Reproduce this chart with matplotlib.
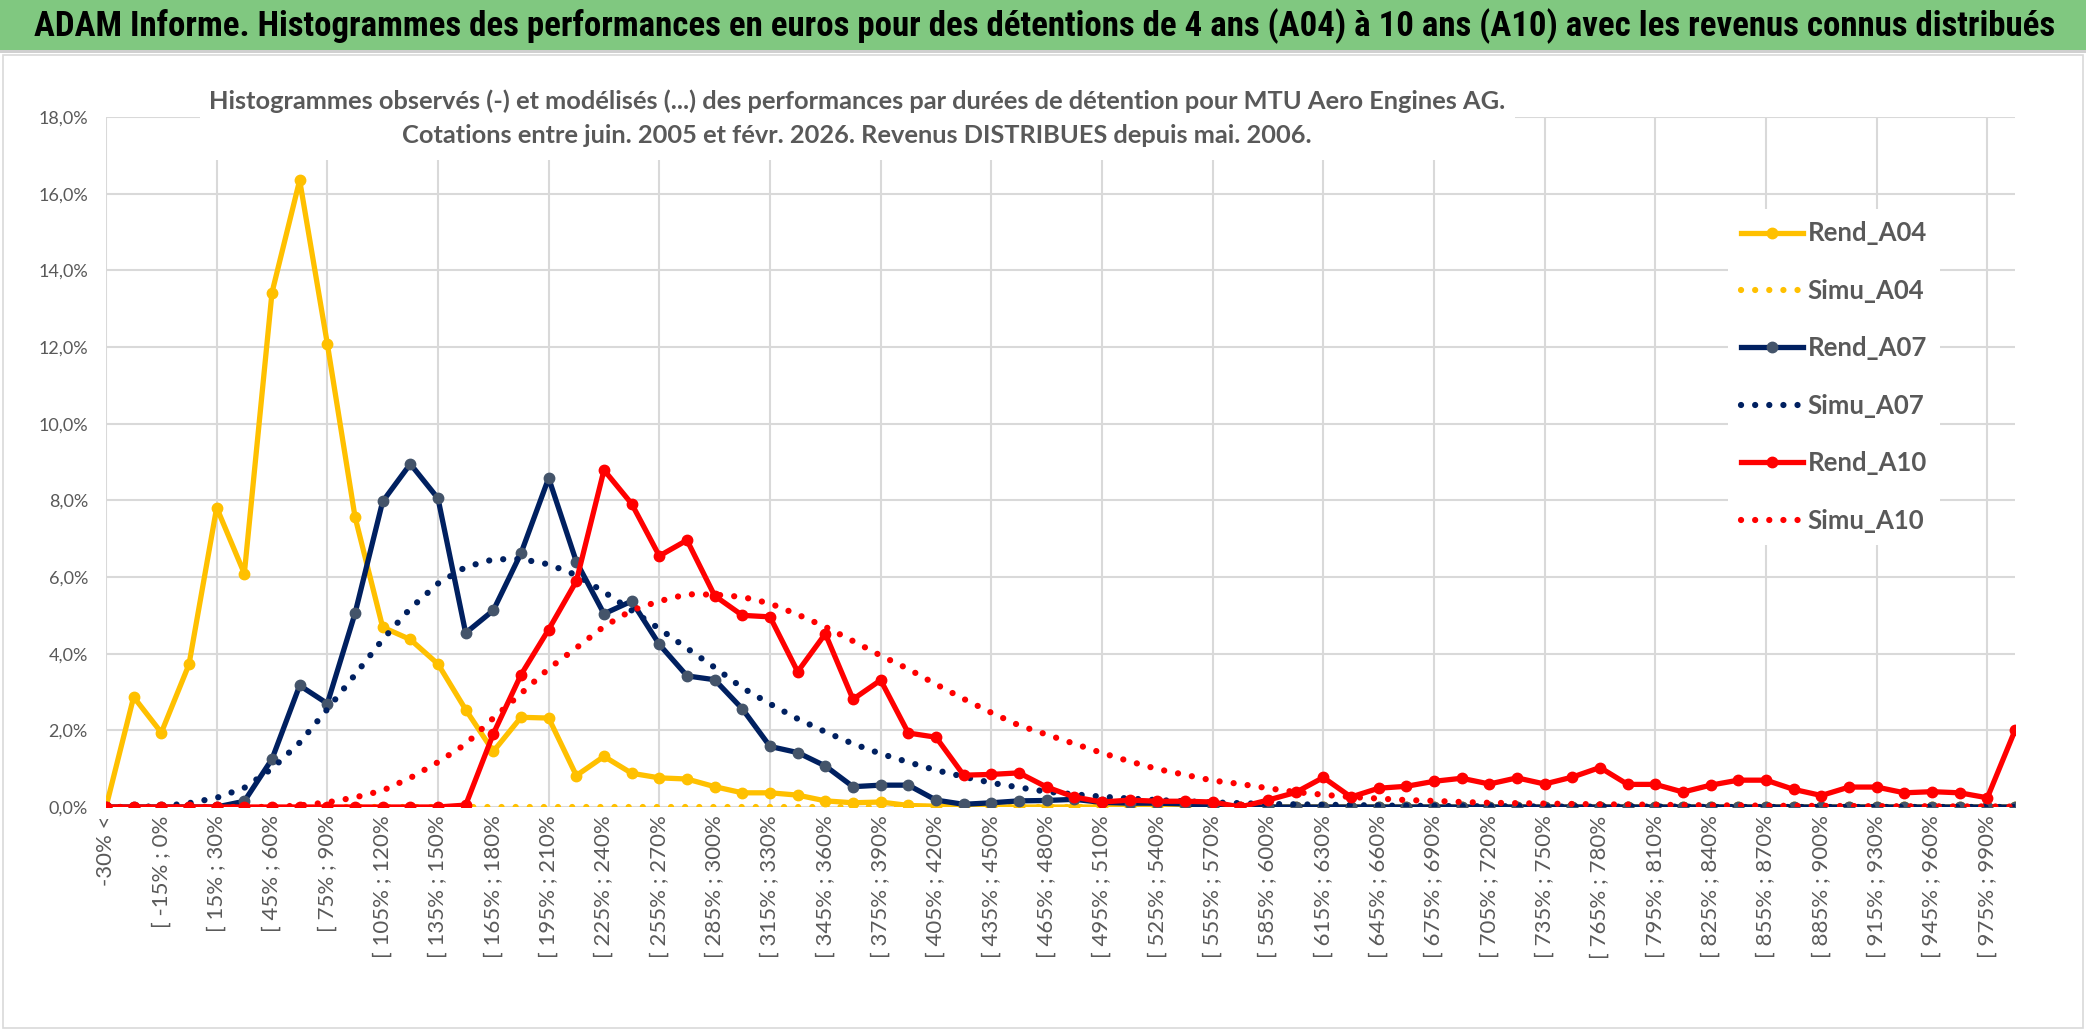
import matplotlib
matplotlib.use("Agg")
import matplotlib.pyplot as plt
from matplotlib import font_manager
from matplotlib.font_manager import FontProperties
from matplotlib.ticker import FixedLocator, FuncFormatter
from matplotlib.patches import Rectangle


def pick_font(names):
    for name in names:
        try:
            font_manager.findfont(FontProperties(family=name), fallback_to_default=False)
            return name
        except ValueError:
            continue
    return "DejaVu Sans"


TITLE_FONT = pick_font(["Liberation Sans Narrow", "Roboto Condensed", "Lato"])
BODY_FONT = pick_font(["Lato", "Open Sans", "DejaVu Sans"])

# categories: "-30% <" then 15% wide classes
lower_bounds = list(range(-30, 991, 15))
categories = ["-30% <"] + [f"[ {a}% ; {a + 15}%" for a in lower_bounds]

# values in %
rend_a04 = [0.0, 2.87, 1.94, 3.72, 7.81, 6.09, 13.42, 16.35, 12.08, 7.57,
            4.69, 4.37, 3.73, 2.54, 1.45, 2.34, 2.32, 0.82, 1.32, 0.88,
            0.76, 0.73, 0.53, 0.37, 0.37, 0.31, 0.16, 0.11, 0.13, 0.04,
            0.02, 0.0, 0.0, 0.0, 0.0, 0.0, 0.0, 0.0, 0.0, 0.0,
            0.0, 0.0, 0.0, 0.0, 0.0, 0.0, 0.0, 0.0, 0.0, 0.0,
            0.0, 0.0, 0.0, 0.0, 0.0, 0.0, 0.0, 0.0, 0.0, 0.0,
            0.0, 0.0, 0.0, 0.0, 0.0, 0.0, 0.0, 0.0, 0.0, 0.0]
simu_a04 = [0.0] * 70
rend_a07 = [0.0, 0.0, 0.0, 0.0, 0.0, 0.15, 1.25, 3.17, 2.70, 5.05,
            7.97, 8.95, 8.05, 4.54, 5.13, 6.62, 8.58, 6.40, 5.04, 5.37,
            4.24, 3.42, 3.32, 2.56, 1.58, 1.42, 1.07, 0.53, 0.57, 0.57,
            0.18, 0.07, 0.11, 0.16, 0.17, 0.20, 0.12, 0.10, 0.10, 0.08,
            0.03, 0.0, 0.0, 0.0, 0.0, 0.0, 0.0, 0.0, 0.0, 0.0,
            0.0, 0.0, 0.0, 0.0, 0.0, 0.0, 0.0, 0.0, 0.0, 0.0,
            0.0, 0.0, 0.0, 0.0, 0.0, 0.0, 0.0, 0.0, 0.0, 0.0]
simu_a07 = [0.0, 0.0, 0.02, 0.10, 0.24, 0.50, 1.00, 1.68, 2.55, 3.45,
            4.37, 5.18, 5.83, 6.26, 6.46, 6.47, 6.33, 6.05, 5.61, 5.13,
            4.65, 4.14, 3.64, 3.11, 2.69, 2.30, 1.96, 1.65, 1.39, 1.17,
            0.96, 0.79, 0.63, 0.51, 0.40, 0.33, 0.27, 0.22, 0.18, 0.15,
            0.12, 0.10, 0.08, 0.07, 0.06, 0.05, 0.04, 0.03, 0.03, 0.02,
            0.02, 0.02, 0.01, 0.01, 0.01, 0.01, 0.01, 0.01, 0.0, 0.0,
            0.0, 0.0, 0.0, 0.0, 0.0, 0.0, 0.0, 0.0, 0.0, 0.0]
rend_a10 = [0.0, 0.0, 0.0, 0.0, 0.0, 0.0, 0.0, 0.0, 0.0, 0.0,
            0.0, 0.0, 0.0, 0.05, 1.91, 3.45, 4.63, 5.89, 8.79, 7.91,
            6.55, 6.96, 5.51, 5.00, 4.96, 3.53, 4.52, 2.81, 3.31, 1.93,
            1.82, 0.83, 0.85, 0.89, 0.52, 0.26, 0.13, 0.18, 0.15, 0.15,
            0.13, 0.0, 0.18, 0.38, 0.77, 0.26, 0.49, 0.54, 0.67, 0.75,
            0.60, 0.76, 0.60, 0.78, 1.03, 0.59, 0.59, 0.39, 0.57, 0.70,
            0.70, 0.46, 0.30, 0.52, 0.52, 0.37, 0.40, 0.37, 0.24, 2.00]
simu_a10 = [0.0, 0.0, 0.0, 0.0, 0.0, 0.0, 0.0, 0.04, 0.12, 0.25,
            0.43, 0.76, 1.17, 1.64, 2.32, 2.96, 3.61, 4.15, 4.71, 5.13,
            5.37, 5.55, 5.54, 5.48, 5.31, 5.02, 4.70, 4.33, 3.95, 3.60,
            3.20, 2.82, 2.46, 2.13, 1.89, 1.65, 1.41, 1.19, 0.99, 0.84,
            0.69, 0.60, 0.49, 0.39, 0.32, 0.26, 0.22, 0.18, 0.16, 0.13,
            0.11, 0.10, 0.09, 0.08, 0.07, 0.065, 0.06, 0.05, 0.045, 0.04,
            0.035, 0.03, 0.03, 0.025, 0.02, 0.02, 0.02, 0.015, 0.015, 0.01]

title = ("ADAM Informe. Histogrammes des performances en euros pour des détentions "
         "de 4 ans (A04) à 10 ans (A10) avec les revenus connus distribués")
subtitle = ("Histogrammes observés (-) et modélisés (...) des performances par durées "
            "de détention pour MTU Aero Engines AG.\n"
            "Cotations entre juin. 2005 et févr. 2026. Revenus DISTRIBUES depuis mai. 2006.")

YELLOW = "#FFC000"
NAVY = "#002060"
NAVY_MK = "#44546A"
RED = "#FF0000"
GREY_TXT = "#595959"
GRID = "#d9d9d9"

W, H = 2086, 1031
fig = plt.figure(figsize=(W / 100, H / 100), dpi=100)
fig.patch.set_facecolor("white")

# green banner and chart frame
fig.patches.append(Rectangle((0, 1 - 50 / H), 1, 50 / H, transform=fig.transFigure,
                             facecolor="#80c880", edgecolor="none", zorder=0))
fig.patches.append(Rectangle((0, 1 - 53 / H), 1, 3 / H, transform=fig.transFigure,
                             facecolor="#d0d0d0", edgecolor="none", zorder=0))
fig.patches.append(Rectangle((3 / W, 3 / H), 1 - 6 / W, 1 - 58 / H, transform=fig.transFigure,
                             facecolor="none", edgecolor=GRID, lw=1.2, zorder=0))
# white box behind the chart title (hides gridlines)
fig.patches.append(Rectangle((200 / W, 1 - 160 / H), 1315 / W, 75 / H,
                             transform=fig.transFigure, facecolor="white",
                             edgecolor="none", zorder=1))

ax = fig.add_axes([106 / W, 1 - 807 / H, (2015 - 106) / W, (807 - 117) / H])
x = list(range(len(categories)))

dot_style = (0, (0.01, 2.25))
ax.plot(x, rend_a04, color=YELLOW, lw=3.8, marker="o", ms=7.5, label="Rend_A04",
        solid_joinstyle="round", zorder=3)
ax.plot(x, simu_a04, color=YELLOW, lw=4.5, ls=dot_style, dash_capstyle="round",
        label="Simu_A04", zorder=4)
ax.plot(x, rend_a07, color=NAVY, lw=3.8, marker="o", ms=7.5, mfc=NAVY_MK, mec=NAVY_MK,
        label="Rend_A07", solid_joinstyle="round", zorder=5)
ax.plot(x, simu_a07, color=NAVY, lw=4.5, ls=dot_style, dash_capstyle="round",
        label="Simu_A07", zorder=6)
ax.plot(x, rend_a10, color=RED, lw=3.8, marker="o", ms=7.5, label="Rend_A10",
        solid_joinstyle="round", zorder=7)
ax.plot(x, simu_a10, color=RED, lw=4.5, ls=dot_style, dash_capstyle="round",
        label="Simu_A10", zorder=8)

ax.set_xlim(0, len(categories) - 1)
ax.set_ylim(0, 18)
ax.set_yticks(range(0, 19, 2))
ax.yaxis.set_major_formatter(FuncFormatter(lambda v, p: f"{v:.1f}%".replace(".", ",")))

major = list(range(0, len(categories), 4))
minor = list(range(2, len(categories), 4))
ax.xaxis.set_major_locator(FixedLocator(major))
ax.xaxis.set_minor_locator(FixedLocator(minor))
ax.set_xticklabels([categories[i] for i in major])
ax.set_xticklabels([categories[i] for i in minor], minor=True)
for lab in ax.get_xticklabels(which="both"):
    lab.set_rotation(90)
    lab.set_va("top")
    lab.set_ha("center")
    lab.set_fontfamily(BODY_FONT)
    lab.set_fontsize(16)
    lab.set_color(GREY_TXT)
for lab in ax.get_yticklabels():
    lab.set_fontfamily(BODY_FONT)
    lab.set_fontsize(13)
    lab.set_color(GREY_TXT)
ax.tick_params(axis="x", which="both", length=0, pad=6)
ax.tick_params(axis="y", length=0, pad=13)

ax.grid(True, which="major", color=GRID, lw=1.5)
ax.set_axisbelow(True)
for s in ax.spines.values():
    s.set_visible(False)

leg = ax.legend(loc="center left", bbox_to_anchor=(1728 / W, 1 - 377 / H),
                bbox_transform=fig.transFigure, frameon=True, fancybox=False,
                edgecolor="none", facecolor="white", framealpha=1,
                handlelength=2.4, handletextpad=0.2, labelspacing=1.3,
                borderpad=0.5, borderaxespad=0,
                prop={"family": BODY_FONT, "size": 18.5, "weight": "bold"})
leg.set_zorder(20)
for t in leg.get_texts():
    t.set_color(GREY_TXT)

t_title = fig.text(1045 / W, 1 - 26 / H, title, ha="center", va="center",
                   fontfamily=TITLE_FONT, fontweight="bold", fontsize=23, color="black",
                   zorder=3)
t_sub = fig.text(857 / W, 1 - 118 / H, subtitle, ha="center", va="center",
                 fontfamily=BODY_FONT, fontweight="bold", fontsize=16, color=GREY_TXT,
                 linespacing=1.55, zorder=3)

# fit texts to the widths measured on the reference
renderer = fig.canvas.get_renderer()
for txt, target in ((t_title, 2030), (t_sub, 1302)):
    w = txt.get_window_extent(renderer).width
    txt.set_fontsize(txt.get_fontsize() * target / w)

fig.savefig("out.png", dpi=100)
